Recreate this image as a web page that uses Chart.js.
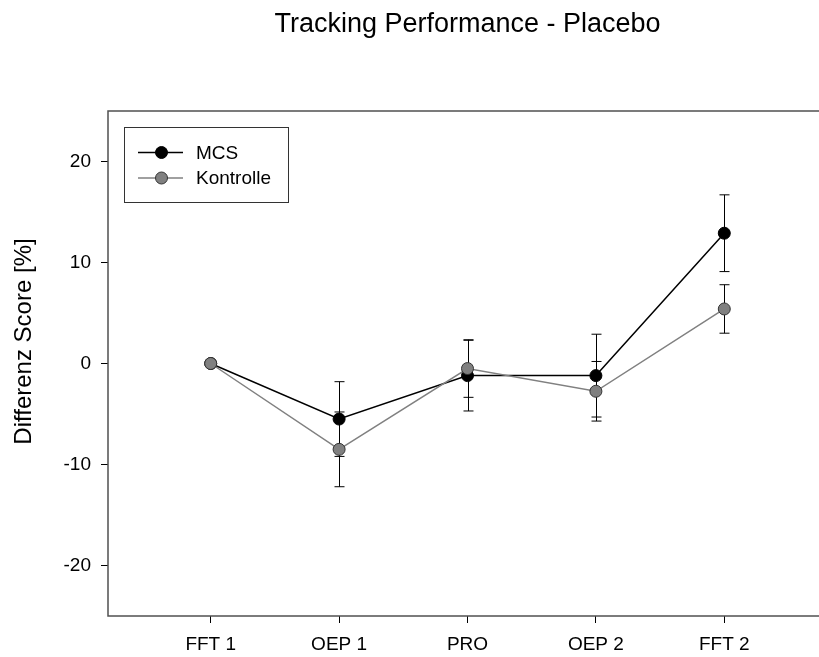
<!DOCTYPE html>
<html>
<head>
<meta charset="utf-8">
<script src="https://cdn.jsdelivr.net/npm/chart.js@4.4.0/dist/chart.umd.min.js"></script>
<style>
  html, body { margin: 0; padding: 0; background: #fff; overflow: hidden; }
</style>
</head>
<body>
<canvas id="myChart" width="840" height="657"></canvas>
<script>
const categories = ['FFT 1', 'OEP 1', 'PRO', 'OEP 2', 'FFT 2']
const mcs = [0, -5.5, -1.2, -1.2, 12.9]
const mcsErr = [0, 3.7, 3.5, 4.1, 3.8]
const kontrolle = [0, -8.5, -0.5, -2.75, 5.4]
const kontrolleErr = [0, 3.7, 2.85, 2.95, 2.4]
const yTicks = [-20, -10, 0, 10, 20]

const FONT = "'Liberation Sans', Arial, sans-serif"

const toPoints = arr => arr.map((v, i) => ({ x: i, y: v }))

// error bars under the markers
const errorBars = {
  id: 'errorBars',
  beforeDatasetsDraw: chart => {
    const ctx = chart.ctx
    const x = chart.scales.x
    const y = chart.scales.y
    ctx.save()
    ctx.strokeStyle = '#000'
    ctx.lineWidth = 1
    chart.data.datasets.forEach(ds => {
      ds.data.forEach((p, i) => {
        const e = ds.errors[i]
        if (!e) return
        const px = Math.round(x.getPixelForValue(p.x)) + 0.5
        const top = y.getPixelForValue(p.y + e)
        const bot = y.getPixelForValue(p.y - e)
        ctx.beginPath()
        ctx.moveTo(px, top)
        ctx.lineTo(px, bot)
        ctx.moveTo(px - 5, top)
        ctx.lineTo(px + 5, top)
        ctx.moveTo(px - 5, bot)
        ctx.lineTo(px + 5, bot)
        ctx.stroke()
      })
    })
    ctx.restore()
  }
}

// frame, titles and the boxed legend
const decorations = {
  id: 'decorations',
  afterDraw: chart => {
    const ctx = chart.ctx
    const a = chart.chartArea
    ctx.save()
    ctx.strokeStyle = '#505050'
    ctx.lineWidth = 1.5
    ctx.strokeRect(a.left, a.top, a.right - a.left, a.bottom - a.top)

    ctx.fillStyle = '#000'
    ctx.font = '27px ' + FONT
    ctx.textAlign = 'center'
    ctx.textBaseline = 'alphabetic'
    ctx.fillText('Tracking Performance - Placebo', (a.left + a.right) / 2, 32)

    // y axis title, sits a little above the plot centre in the original
    ctx.save()
    ctx.translate(24.5, 341.5)
    ctx.rotate(-Math.PI / 2)
    ctx.font = '24px ' + FONT
    ctx.textBaseline = 'middle'
    ctx.fillText('Differenz Score [%]', 0, 0)
    ctx.restore()

    // legend box
    ctx.strokeStyle = '#333'
    ctx.lineWidth = 1
    ctx.strokeRect(124.5, 127.5, 164, 75)
    const rows = [chart.data.datasets[1], chart.data.datasets[0]]
    rows.forEach((ds, k) => {
      const ly = 152.5 + k * 25.5
      ctx.strokeStyle = ds.borderColor
      ctx.lineWidth = 1.5
      ctx.beginPath()
      ctx.moveTo(138, ly)
      ctx.lineTo(183, ly)
      ctx.stroke()
      ctx.beginPath()
      ctx.arc(161.5, ly, 6, 0, Math.PI * 2)
      ctx.fillStyle = ds.pointBackgroundColor
      ctx.fill()
      ctx.strokeStyle = ds.pointBorderColor
      ctx.lineWidth = 1
      ctx.stroke()
      ctx.fillStyle = '#000'
      ctx.font = '19px ' + FONT
      ctx.textAlign = 'left'
      ctx.textBaseline = 'middle'
      ctx.fillText(ds.label, 196, ly + 1)
    })
    ctx.restore()
  }
}

new Chart('myChart', {
  type: 'line',
  plugins: [errorBars, decorations],
  data: {
    datasets: [
      {
        label: 'Kontrolle',
        data: toPoints(kontrolle),
        errors: kontrolleErr,
        borderColor: '#808080',
        borderWidth: 1.5,
        pointBackgroundColor: '#808080',
        pointBorderColor: '#333',
        pointBorderWidth: 1,
        pointRadius: 6,
        order: 0
      },
      {
        label: 'MCS',
        data: toPoints(mcs),
        errors: mcsErr,
        borderColor: '#000',
        borderWidth: 1.5,
        pointBackgroundColor: '#000',
        pointBorderColor: '#000',
        pointBorderWidth: 1,
        pointRadius: 6,
        order: 1
      }
    ]
  },
  options: {
    responsive: false,
    animation: false,
    layout: { padding: { top: 111, right: 13, bottom: 0, left: 0 } },
    plugins: {
      legend: { display: false },
      tooltip: { enabled: false }
    },
    scales: {
      x: {
        type: 'linear',
        min: -0.8,
        max: 4.8,
        afterBuildTicks: scale => {
          scale.ticks = categories.map((c, i) => ({ value: i }))
        },
        afterFit: scale => {
          scale.height = 41
        },
        grid: {
          drawOnChartArea: false,
          drawTicks: true,
          tickLength: 7,
          color: '#000'
        },
        border: { display: false },
        ticks: {
          color: '#000',
          padding: 10,
          maxRotation: 0,
          autoSkip: false,
          font: { family: FONT, size: 19 },
          callback: v => categories[v]
        }
      },
      y: {
        min: -25,
        max: 25,
        afterBuildTicks: scale => {
          scale.ticks = yTicks.map(v => ({ value: v }))
        },
        afterFit: scale => {
          scale.width = 108
        },
        grid: {
          drawOnChartArea: false,
          drawTicks: true,
          tickLength: 7,
          color: '#000'
        },
        border: { display: false },
        ticks: {
          color: '#000',
          padding: 10,
          font: { family: FONT, size: 19 }
        }
      }
    }
  }
})
</script>
</body>
</html>
